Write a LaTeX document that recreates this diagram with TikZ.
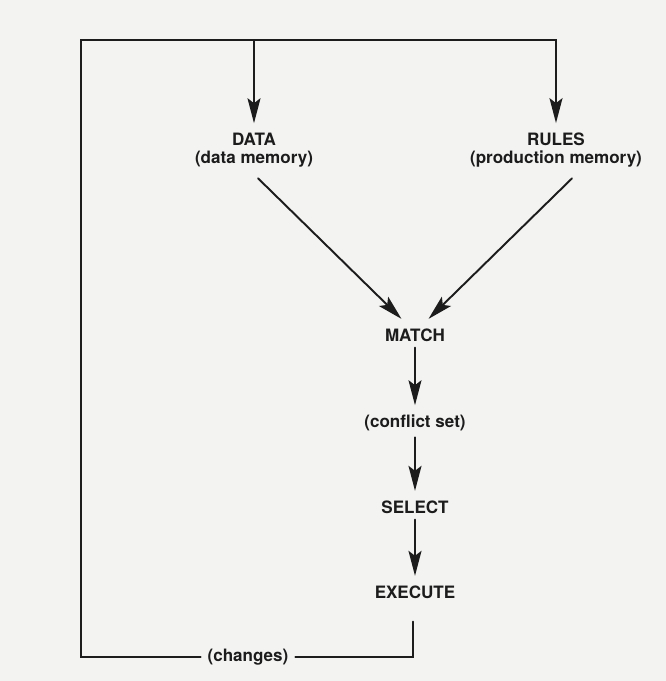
\documentclass[tikz,border=0pt]{standalone}
\usepackage{fontspec}
\setmainfont{TeX Gyre Heros}
\usepackage{tikz}
\usetikzlibrary{arrows.meta,calc}
\usepackage{xcolor}
\definecolor{paper}{RGB}{243,243,242}
\definecolor{ink}{RGB}{28,28,28}
\begin{document}
\begin{tikzpicture}[x=0.02cm,y=-0.02cm,>={Stealth[length=5mm,width=2.6mm,inset=1mm]},font=\fontsize{9.7}{10.2}\selectfont\bfseries,line cap=round,line width=1.1pt,
  label/.style={align=center,inner sep=3pt,text=ink},
  flow/.style={->,ink,shorten >=2pt}]
\fill[paper] (0,0) rectangle (666,681);
\useasboundingbox (0,0) rectangle (666,681);
\node[label] (data) at (254,150) {DATA\\(data memory)};
\node[label] (rules) at (556,150) {RULES\\(production memory)};
\node[label] (match) at (415,335) {MATCH};
\node[label] (conflict) at (415,423) {(conflict set)};
\node[label] (select) at (415,507) {SELECT};
\node[label] (execute) at (415,592) {EXECUTE};
\node[label,inner xsep=3.5pt] (changes) at (248,657) {(changes)};
\coordinate (loop) at (81,40);
\draw[ink] ($(execute.south)+(-2,17)$) |- (changes.east);
\draw[flow] (changes.west) -| (loop) -| (rules.north);
\draw[flow] (data.north |- loop) -- (data.north);
\draw[flow] ($(data.south)+(4,5)$) -- ($(match.north)+(-11,-1)$);
\draw[flow] ($(rules.south)+(16,5)$) -- ($(match.north)+(11,-1)$);
\draw[flow] (match) -- (conflict);
\draw[flow] (conflict) -- (select);
\draw[flow] (select) -- (execute);
\end{tikzpicture}
\end{document}
